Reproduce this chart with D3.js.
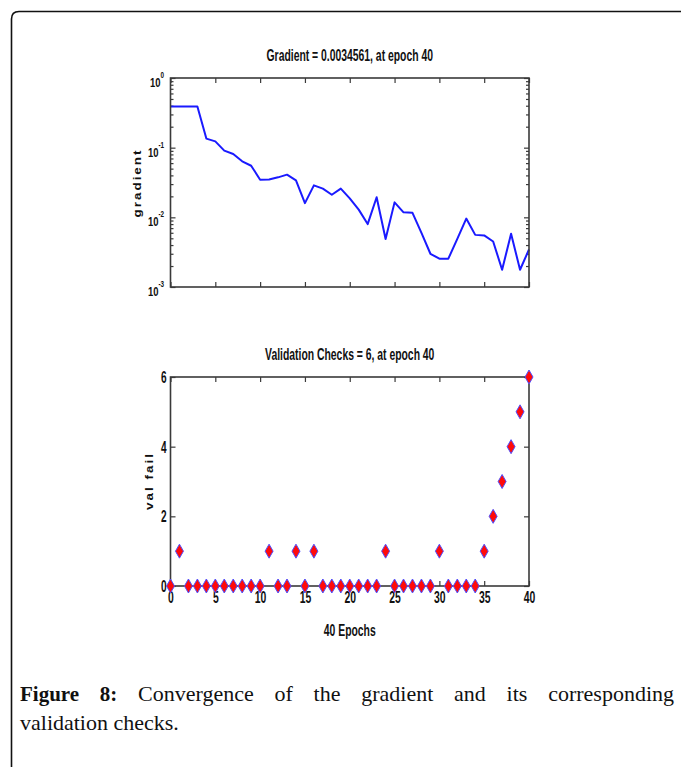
<!DOCTYPE html>
<html>
<head>
<meta charset="utf-8">
<script src="https://cdn.jsdelivr.net/npm/d3@7/dist/d3.min.js"></script>
<style>
	body { margin:0; background:#fff; }
	svg { display:block; }
</style>
</head>
<body>
<svg id="fig" width="681" height="767"></svg>
<script>
(function() {

	// DATA
	var epochs = [0,1,2,3,4,5,6,7,8,9,10,11,12,13,14,15,16,17,18,19,20,
		21,22,23,24,25,26,27,28,29,30,31,32,33,34,35,36,37,38,39,40];
	var gradient = [0.39,0.39,0.39,0.39,0.135,0.123,0.0906,0.081,0.0637,0.055,0.0347,
		0.035,0.0375,0.041,0.034,0.016,0.0288,0.0258,0.0211,0.0258,0.0187,
		0.0129,0.0080,0.0194,0.0049,0.0164,0.0118,0.0116,0.0060,0.0030,0.00255,
		0.00255,0.0049,0.0096,0.0056,0.0055,0.0045,0.00177,0.0058,0.00177,0.0034561];
	var valFail = [0,1,0,0,0,0,0,0,0,0,0,1,0,0,1,0,1,0,0,0,0,
		0,0,0,1,0,0,0,0,0,1,0,0,0,0,1,2,3,4,5,6];
	var xTicks = [0,5,10,15,20,25,30,35,40];
	var logTicks = [1e-3,1e-2,1e-1,1];
	var logExp = ['-3','-2','-1','0'];
	var valTicks = [0,2,4,6];

	var topTitle = 'Gradient = 0.0034561, at epoch 40';
	var botTitle = 'Validation Checks = 6, at epoch 40';
	var captionBold = ['Figure', '8:'];
	var captionLine1 = ['Convergence', 'of', 'the', 'gradient', 'and', 'its', 'corresponding'];
	var captionLine2 = 'validation checks.';

	//VARS
	var svg = d3.select('#fig');
	var sx = 0.63; // matlab text looks squeezed sideways
	var font = '"Liberation Sans", Arial, sans-serif';
	var frameColor = '#3a3a3a';

	var x = d3.scaleLinear().domain([0, 40]).range([170.5, 529]);
	var yLog = d3.scaleLog().domain([1e-3, 1]).range([287, 78]);
	var yVal = d3.scaleLinear().domain([0, 6]).range([586, 377]);

	// outer box with rounded corner
	svg.append('path')
		.attr('d', 'M11.5,767V19Q11.5,11.5 19,11.5H681')
		.attr('fill', 'none')
		.attr('stroke', '#111')
		.attr('stroke-width', 1.6);

	function squeeze(sel) {
		sel.selectAll('text').each(function() {
			var t = d3.select(this);
			var x0 = +t.attr('x') || 0;
			t.attr('x', 0)
				.attr('transform', 'translate(' + x0 + ',0) scale(' + sx + ',1)');
		});
	}

	function styleAxis(g, size) {
		g.select('.domain').remove();
		g.selectAll('line').attr('stroke', frameColor).attr('stroke-width', 1.2);
		g.attr('font-family', font).attr('font-size', size).attr('font-weight', 'bold');
		g.selectAll('text').attr('fill', '#111');
		squeeze(g);
	}

	function frame(yScale) {
		var r = yScale.range();
		svg.append('rect')
			.attr('x', x.range()[0])
			.attr('y', r[1])
			.attr('width', x.range()[1] - x.range()[0])
			.attr('height', r[0] - r[1])
			.attr('fill', 'none')
			.attr('stroke', frameColor)
			.attr('stroke-width', 1.6);
	}

	function title(txt, yPos) {
		svg.append('text')
			.attr('transform', 'translate(' + ((x.range()[0] + x.range()[1]) / 2) + ',' + yPos + ') scale(' + sx + ',1)')
			.attr('text-anchor', 'middle')
			.attr('font-family', font)
			.attr('font-weight', 'bold')
			.attr('font-size', 16.5)
			.attr('fill', '#111')
			.text(txt);
	}

	function yLabel(txt, xPos, yPos) {
		svg.append('text')
			.attr('transform', 'translate(' + xPos + ',' + yPos + ') rotate(-90) scale(1,0.85)')
			.attr('text-anchor', 'middle')
			.attr('font-family', font)
			.attr('font-weight', 'bold')
			.attr('font-size', 13.5)
			.attr('letter-spacing', 2)
			.attr('fill', '#111')
			.text(txt);
	}

	// TOP PANEL - gradient
	var minor = yLog.ticks().filter(function(v) { return logTicks.indexOf(v) < 0; });

	[['left', 170.5], ['right', 529]].forEach(function(s) {
		var ax = s[0] == 'left' ? d3.axisLeft : d3.axisRight;
		var gMin = svg.append('g').attr('transform', 'translate(' + s[1] + ',0)')
			.call(ax(yLog).tickValues(minor).tickSize(-3).tickFormat(''));
		styleAxis(gMin, 10);
		var gMaj = svg.append('g').attr('transform', 'translate(' + s[1] + ',0)')
			.call(ax(yLog).tickValues(logTicks).tickSize(-5).tickFormat(''));
		styleAxis(gMaj, 10);
	});

	var gxb = svg.append('g').attr('transform', 'translate(0,287)')
		.call(d3.axisBottom(x).tickValues(xTicks).tickSize(-5).tickFormat(''));
	styleAxis(gxb, 10);
	var gxt = svg.append('g').attr('transform', 'translate(0,78)')
		.call(d3.axisTop(x).tickValues(xTicks).tickSize(-5).tickFormat(''));
	styleAxis(gxt, 10);

	// log labels 10^n
	var logLab = svg.append('g')
		.attr('font-family', font)
		.attr('font-weight', 'bold')
		.attr('fill', '#111')
		.selectAll('text')
		.data(logTicks)
		.enter()
		.append('text')
		.attr('transform', function(d) { return 'translate(164,' + (yLog(d) + 9) + ') scale(0.7,1)'; })
		.attr('text-anchor', 'end');
	logLab.append('tspan').attr('font-size', 13.5).text('10');
	logLab.append('tspan').attr('font-size', 9).attr('dy', -9)
		.text(function(d, i) { return logExp[i]; });

	var line = d3.line()
		.x(function(d, i) { return x(epochs[i]); })
		.y(function(d) { return yLog(d); });

	svg.append('path')
		.datum(gradient)
		.attr('d', line)
		.attr('fill', 'none')
		.attr('stroke', '#1a1aff')
		.attr('stroke-width', 2)
		.attr('stroke-linejoin', 'round');

	frame(yLog);
	title(topTitle, 61);
	yLabel('gradient', 141, 183);

	// BOTTOM PANEL - validation checks
	var gvl = svg.append('g').attr('transform', 'translate(170.5,0)')
		.call(d3.axisLeft(yVal).tickValues(valTicks).tickSize(-5).tickPadding(4).tickFormat(d3.format('d')));
	styleAxis(gvl, 16);
	gvl.selectAll('text').attr('dy', '0.35em');
	var gvr = svg.append('g').attr('transform', 'translate(529,0)')
		.call(d3.axisRight(yVal).tickValues(valTicks).tickSize(-5).tickFormat(''));
	styleAxis(gvr, 16);
	var gvb = svg.append('g').attr('transform', 'translate(0,586)')
		.call(d3.axisBottom(x).tickValues(xTicks).tickSize(-5).tickPadding(5));
	styleAxis(gvb, 16.5);
	var gvt = svg.append('g').attr('transform', 'translate(0,377)')
		.call(d3.axisTop(x).tickValues(xTicks).tickSize(-5).tickFormat(''));
	styleAxis(gvt, 16);

	frame(yVal);

	svg.append('g')
		.selectAll('path')
		.data(valFail)
		.enter()
		.append('path')
		.attr('transform', function(d, i) { return 'translate(' + x(epochs[i]) + ',' + yVal(d) + ')'; })
		.attr('d', 'M0,-7L4,0L0,7L-4,0Z')
		.attr('fill', '#ff0a0a')
		.attr('stroke', '#5050ff')
		.attr('stroke-width', 1);

	title(botTitle, 360);
	yLabel('val fail', 153, 481);

	svg.append('text')
		.attr('transform', 'translate(' + ((x.range()[0] + x.range()[1]) / 2) + ',636) scale(' + sx + ',1)')
		.attr('text-anchor', 'middle')
		.attr('font-family', font)
		.attr('font-weight', 'bold')
		.attr('font-size', 16.5)
		.attr('fill', '#111')
		.text('40 Epochs');

	// CAPTION - first line justified between left and right edge
	var serif = '"Liberation Serif", "Times New Roman", serif';
	var capLeft = 20, capRight = 674;
	var words = captionBold.map(function(w) { return { t: w, b: true }; })
		.concat(captionLine1.map(function(w) { return { t: w, b: false }; }));

	var cap = svg.append('g')
		.attr('font-family', serif)
		.attr('font-size', 22)
		.attr('fill', '#111');

	var wt = cap.selectAll('text.w')
		.data(words)
		.enter()
		.append('text')
		.attr('class', 'w')
		.attr('y', 701)
		.attr('font-size', function(d) { return d.b ? 21 : 22; })
		.attr('font-weight', function(d) { return d.b ? 'bold' : 'normal'; })
		.text(function(d) { return d.t; });

	var widths = [];
	wt.each(function() { widths.push(this.getComputedTextLength()); });
	var gap = (capRight - capLeft - d3.sum(widths)) / (words.length - 1);
	var pos = capLeft;
	wt.attr('x', function(d, i) {
		var p = pos;
		pos += widths[i] + gap;
		return p;
	});

	cap.append('text')
		.attr('x', capLeft)
		.attr('y', 730)
		.text(captionLine2);

})();
</script>
</body>
</html>
